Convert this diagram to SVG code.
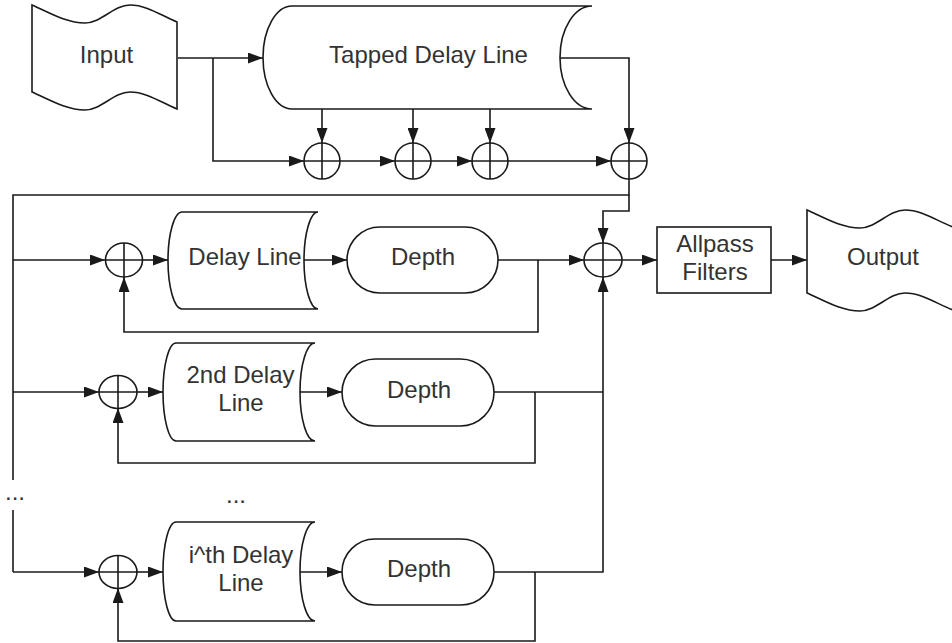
<svg xmlns="http://www.w3.org/2000/svg" width="952" height="643" viewBox="0 0 952 643">
  <defs>
    <marker id="arrow" markerWidth="15" markerHeight="11" refX="15" refY="5.5" orient="auto" markerUnits="userSpaceOnUse">
      <path d="M0,0 L15,5.5 L0,11 Z" fill="#1a1a1a"/>
    </marker>
    <style>
      .shape { fill: #ffffff; stroke: #1a1a1a; stroke-width: 1.6; }
      .wire { fill: none; stroke: #1a1a1a; stroke-width: 1.6; }
      .arr { marker-end: url(#arrow); }
      .label { font-family: "Liberation Sans", Arial, sans-serif; font-size: 24px; fill: #333333; text-anchor: middle; }
      .sum line { stroke: #1a1a1a; stroke-width: 1.6; }
    </style>
  </defs>

  <rect width="952" height="643" fill="#ffffff"/>

  <!-- signal connectors -->
  <g id="connectors" class="wires">
    <!-- input to tapped delay line, and dry branch -->
    <path class="wire arr" d="M178,58 L263,58"/>
    <path class="wire arr" d="M213,58 L213,161 L304,161"/>
    <!-- chain of tap adders -->
    <path class="wire arr" d="M340,161 L395,161"/>
    <path class="wire arr" d="M431,161 L472,161"/>
    <path class="wire arr" d="M508,161 L611,161"/>
    <!-- taps -->
    <path class="wire arr" d="M322,109 L322,143"/>
    <path class="wire arr" d="M413,109 L413,143"/>
    <path class="wire arr" d="M490,109 L490,143"/>
    <path class="wire arr" d="M560,58 L629,58 L629,143"/>
    <!-- tap sum distributed to the delay branches and the mixer -->
    <path class="wire" d="M629,179 L629,195 L13,195 L13,480"/>
    <path class="wire arr" d="M629,195 L629,211 L603,211 L603,243"/>
    <path class="wire" d="M13,510 L13,572"/>

    <!-- branch 1 -->
    <path class="wire arr" d="M13,260 L105,260"/>
    <path class="wire arr" d="M142,260 L168,260"/>
    <path class="wire arr" d="M304,260 L347,260"/>
    <path class="wire arr" d="M498,260 L584,260"/>
    <path class="wire arr" d="M538,260 L538,332 L124,332 L124,277"/>

    <!-- branch 2 -->
    <path class="wire arr" d="M13,392 L99,392"/>
    <path class="wire arr" d="M137,392 L163,392"/>
    <path class="wire arr" d="M300,392 L342,392"/>
    <path class="wire" d="M494,392 L603,392"/>
    <path class="wire arr" d="M535,392 L535,463 L118,463 L118,408"/>

    <!-- branch i -->
    <path class="wire arr" d="M13,572 L99,572"/>
    <path class="wire arr" d="M137,572 L163,572"/>
    <path class="wire arr" d="M300,572 L342,572"/>
    <path class="wire arr" d="M494,572 L603,572 L603,277"/>
    <path class="wire arr" d="M535,572 L535,641 L118,641 L118,588"/>

    <!-- mixer to allpass to output -->
    <path class="wire arr" d="M622,260 L657,260"/>
    <path class="wire arr" d="M771,260 L807,260"/>
  </g>

  <!-- input tape -->
  <g id="input">
    <path class="shape" d="M32,5 C48,12 66,23 85,23 C101,23 114,5 130,5 C147,5 162,16 177,22 L177,109 C162,103 147,92 130,92 C114,92 101,110 85,110 C66,110 48,99 32,92 Z"/>
    <text class="label" x="106.5" y="62.5">Input</text>
  </g>

  <!-- tapped delay line -->
  <g id="tapped-delay-line">
    <path class="shape" d="M292,6 L592,6 A32,51.5 0 0 0 592,109 L292,109 A29,51.5 0 0 1 292,6 Z"/>
    <text class="label" x="428.5" y="63">Tapped Delay Line</text>
  </g>

  <!-- tap adders -->
  <g id="sum-tap-1" class="sum">
    <circle class="shape" cx="322" cy="161" r="18"/>
    <line x1="304" y1="161" x2="340" y2="161"/><line x1="322" y1="143" x2="322" y2="179"/>
  </g>
  <g id="sum-tap-2" class="sum">
    <circle class="shape" cx="413" cy="161" r="18"/>
    <line x1="395" y1="161" x2="431" y2="161"/><line x1="413" y1="143" x2="413" y2="179"/>
  </g>
  <g id="sum-tap-3" class="sum">
    <circle class="shape" cx="490" cy="161" r="18"/>
    <line x1="472" y1="161" x2="508" y2="161"/><line x1="490" y1="143" x2="490" y2="179"/>
  </g>
  <g id="sum-tap-4" class="sum">
    <circle class="shape" cx="629" cy="161" r="18"/>
    <line x1="611" y1="161" x2="647" y2="161"/><line x1="629" y1="143" x2="629" y2="179"/>
  </g>

  <!-- branch 1 -->
  <g id="sum-branch-1" class="sum">
    <ellipse class="shape" cx="124" cy="260" rx="18.5" ry="17"/>
    <line x1="105.5" y1="260" x2="142.5" y2="260"/><line x1="124" y1="243" x2="124" y2="277"/>
  </g>
  <g id="delay-line-1">
    <path class="shape" d="M182,212 L318,212 A14,48.5 0 0 0 318,309 L182,309 A14,48.5 0 0 1 182,212 Z"/>
    <text class="label" x="245" y="265">Delay Line</text>
  </g>
  <g id="depth-1">
    <rect class="shape" x="347" y="227" width="151" height="66" rx="33" ry="33"/>
    <text class="label" x="423" y="265">Depth</text>
  </g>

  <!-- branch 2 -->
  <g id="sum-branch-2" class="sum">
    <ellipse class="shape" cx="118" cy="392" rx="19" ry="16.5"/>
    <line x1="99" y1="392" x2="137" y2="392"/><line x1="118" y1="375.5" x2="118" y2="408.5"/>
  </g>
  <g id="delay-line-2">
    <path class="shape" d="M176,343 L315,343 A15,49 0 0 0 315,441 L176,441 A13,49 0 0 1 176,343 Z"/>
    <text class="label" x="240.5" y="383">2nd Delay</text>
    <text class="label" x="241" y="411">Line</text>
  </g>
  <g id="depth-2">
    <rect class="shape" x="342" y="359" width="152" height="67" rx="33.5" ry="33.5"/>
    <text class="label" x="419" y="398">Depth</text>
  </g>

  <!-- omitted branches -->
  <g id="ellipsis">
    <text class="label" x="15" y="500">...</text>
    <text class="label" x="236" y="503">...</text>
  </g>

  <!-- branch i -->
  <g id="sum-branch-i" class="sum">
    <ellipse class="shape" cx="118" cy="572" rx="19" ry="16.5"/>
    <line x1="99" y1="572" x2="137" y2="572"/><line x1="118" y1="555.5" x2="118" y2="588.5"/>
  </g>
  <g id="delay-line-i">
    <path class="shape" d="M176,522 L315,522 A15,49.5 0 0 0 315,621 L176,621 A13,49.5 0 0 1 176,522 Z"/>
    <text class="label" x="241" y="563">i^th Delay</text>
    <text class="label" x="241" y="591">Line</text>
  </g>
  <g id="depth-i">
    <rect class="shape" x="342" y="539" width="152" height="66" rx="33" ry="33"/>
    <text class="label" x="419" y="577">Depth</text>
  </g>

  <!-- mixer -->
  <g id="sum-mix" class="sum">
    <ellipse class="shape" cx="603" cy="260" rx="19" ry="17"/>
    <line x1="584" y1="260" x2="622" y2="260"/><line x1="603" y1="243" x2="603" y2="277"/>
  </g>

  <!-- allpass filters -->
  <g id="allpass">
    <rect class="shape" x="657" y="227" width="114" height="66"/>
    <text class="label" x="715" y="252">Allpass</text>
    <text class="label" x="715" y="280">Filters</text>
  </g>

  <!-- output tape -->
  <g id="output">
    <path class="shape" d="M807,210 C823,217 841,228 860,228 C876,228 889,210 905,210 C922,210 937,221 953,227 L953,310 C937,304 922,293 905,293 C889,293 876,311 860,311 C841,311 823,300 807,293 Z"/>
    <text class="label" x="883" y="265">Output</text>
  </g>
</svg>
